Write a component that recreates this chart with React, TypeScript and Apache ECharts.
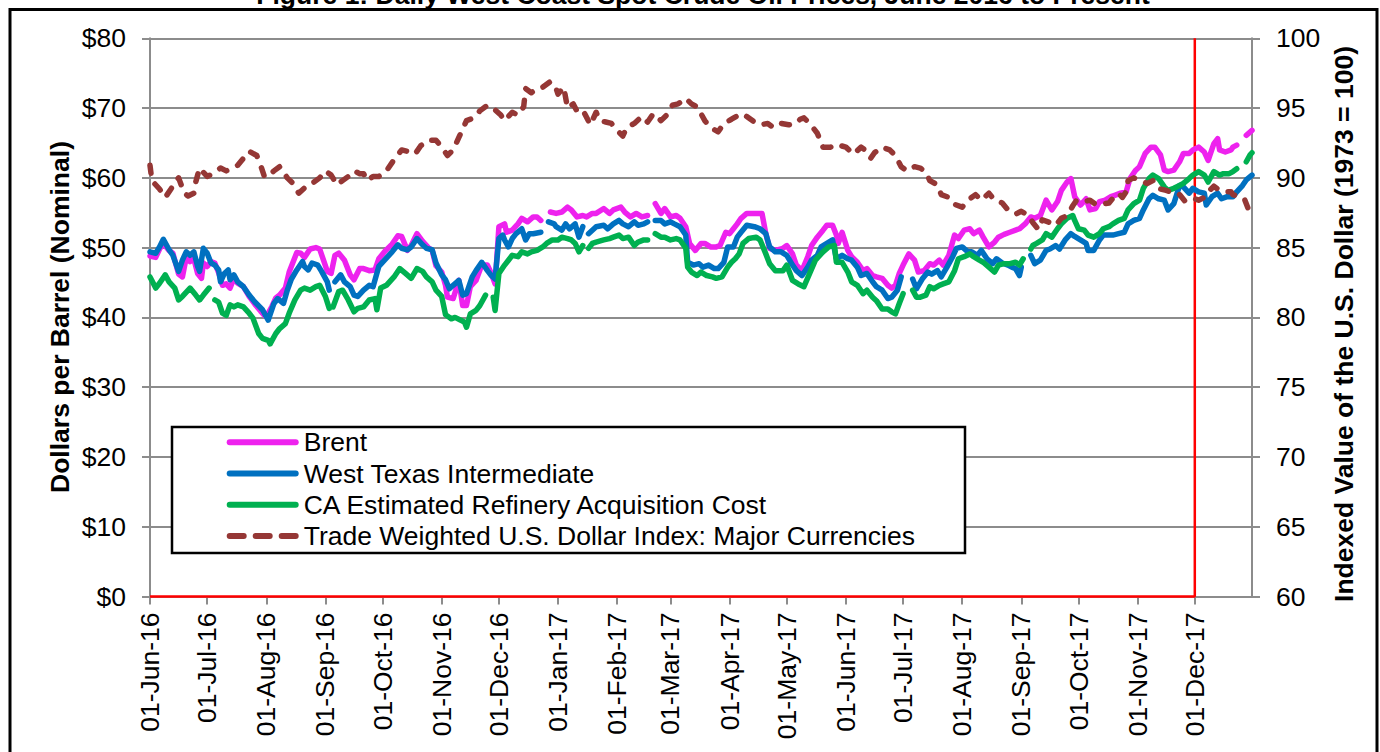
import React, { useEffect, useRef } from "react";
import * as echarts from "echarts";

const FONT = '"Liberation Sans", Arial, Helvetica, sans-serif';
const FS = 26.5;

// Day offsets are counted from 01-Jun-16 (day 0) to 31-Dec-17 (day 578)
const START_UTC = Date.UTC(2016, 5, 1);
const N_DAYS = 579;
const MONTHS = ["Jan", "Feb", "Mar", "Apr", "May", "Jun", "Jul", "Aug", "Sep", "Oct", "Nov", "Dec"];

const SERIES_NAMES = [
  "Brent",
  "West Texas Intermediate",
  "CA Estimated Refinery Acquisition Cost",
  "Trade Weighted U.S. Dollar Index: Major Currencies",
];
const SERIES_COLORS = ["#ee22ee", "#0070c0", "#00b050", "#953735"];

// [day offset, $/bbl]; null = gap (holiday)
const brentPts: [number, number | null][] = [
  [0, 48.8], [3, 48.6], [5, 49.8], [7, 50.6], [10, 49.6], [12, 49.2], [15, 46.2], [17, 45.8], [19, 48.6], [21, 48.0],
  [23, 48.4], [25, 46.3], [27, 45.6], [28, 47.8], [30, 47.3], [32, 48.0], [34, 47.8], [36, 46.4], [38, 44.6], [40, 44.8],
  [42, 44.2], [44, 45.6], [46, 44.9], [49, 44.4], [52, 43.0], [55, 41.9], [58, 40.9], [60, 40.3], [62, 40.6], [64, 41.6],
  [66, 42.8], [68, 43.2], [71, 44.2], [73, 46.5], [75, 47.9], [77, 49.3], [79, 49.2], [81, 48.6], [84, 49.8], [87, 50.0],
  [89, 49.8], [91, 48.2], [93, 46.6], [95, 46.3], [97, 48.9], [99, 49.2], [102, 48.2], [105, 46.1], [107, 45.4], [110, 47.0],
  [112, 47.0], [115, 46.7], [118, 46.8], [120, 48.4], [123, 49.4], [127, 50.5], [130, 51.7], [132, 51.6], [135, 49.6], [137, 50.3],
  [140, 52.0], [143, 50.9], [146, 50.0], [148, 49.6], [150, 47.4], [153, 46.5], [155, 44.6], [156, 42.9], [159, 42.7], [162, 45.3],
  [164, 41.7], [166, 41.7], [168, 44.4], [171, 45.3], [174, 47.5], [177, 47.5], [179, 46.3], [181, 44.8], [183, 53.0], [186, 53.4],
  [187, 52.2], [190, 52.5], [193, 53.4], [195, 54.2], [198, 53.7], [201, 54.4], [203, 54.4], [205, 53.9], [207, null], [210, 55.1],
  [213, 54.9], [216, 55.1], [219, 55.8], [221, 55.4], [224, 54.4], [227, 54.6], [229, 54.4], [232, 54.9], [234, 54.9], [238, 55.6],
  [241, 54.9], [243, 55.4], [247, 55.8], [249, 55.1], [252, 54.4], [255, 54.9], [258, 54.4], [261, 54.6], [263, null], [265, 56.3],
  [268, 54.9], [270, 55.6], [273, 54.4], [276, 54.6], [278, 54.2], [281, 53.0], [283, 50.6], [286, 49.6], [289, 50.6], [291, 50.6],
  [294, 50.1], [297, 50.1], [299, 50.3], [302, 52.2], [304, 52.0], [306, 52.7], [308, 53.4], [310, 54.2], [313, 54.9], [317, 54.9],
  [321, 54.9], [323, 52.0], [325, 49.9], [328, 49.6], [332, 49.9], [334, 50.3], [337, 49.1], [339, 47.5], [342, 46.7], [345, 48.7],
  [347, 50.3], [350, 51.5], [353, 52.5], [355, 53.2], [358, 53.2], [360, 51.8], [361, 50.6], [363, 52.2], [366, 49.6], [368, 48.7],
  [371, 47.9], [374, 46.7], [376, 47.0], [379, 46.0], [381, 45.8], [384, 45.6], [387, 44.6], [389, 44.2], [391, 44.6], [393, 46.3],
  [395, 47.5], [398, 49.1], [401, 48.2], [403, 46.5], [406, 46.7], [409, 47.7], [411, 47.5], [414, 48.2], [416, 47.5], [419, 48.9],
  [422, 51.8], [424, 51.3], [427, 52.5], [430, 52.7], [432, 52.0], [435, 52.5], [437, 51.5], [440, 50.1], [443, 50.8], [445, 51.5],
  [448, 51.9], [451, 52.2], [454, 52.5], [456, 52.7], [459, 53.4], [462, 54.4], [464, 54.2], [467, 54.6], [470, 56.8], [473, 55.4],
  [476, 56.6], [478, 58.2], [481, 59.4], [483, 59.9], [485, 57.3], [488, 56.1], [491, 57.0], [493, 55.4], [496, 55.6], [498, 56.6],
  [501, 56.8], [504, 57.3], [506, 57.5], [509, 57.8], [512, 58.0], [514, 59.9], [517, 61.1], [519, 61.6], [522, 63.5], [525, 64.4],
  [527, 64.4], [530, 63.3], [532, 61.1], [534, 60.9], [537, 61.1], [540, 62.3], [542, 63.5], [545, 63.5], [547, 64.0], [550, 64.4],
  [553, 63.7], [555, 62.5], [558, 64.9], [560, 65.6], [561, 64.0], [564, 63.7], [567, 64.0], [568, 64.4], [570, 64.7], [572, null],
  [575, 66.1], [578, 66.8],
];

const wtiPts: [number, number | null][] = [
  [0, 49.4], [3, 49.2], [5, 50.1], [7, 51.2], [10, 49.7], [12, 48.9], [15, 46.6], [17, 48.2], [19, 49.4], [21, 48.9],
  [23, 49.4], [25, 47.3], [26, 46.6], [28, 49.9], [30, 49.2], [32, 47.8], [34, 47.5], [36, 46.8], [37, 45.1], [39, 46.3],
  [41, 46.8], [42, 45.4], [44, 46.1], [46, 45.1], [49, 44.4], [52, 43.2], [55, 42.2], [59, 41.1], [62, 39.6], [65, 42.0],
  [67, 42.7], [70, 42.0], [72, 43.9], [74, 45.4], [77, 46.8], [80, 48.0], [81, 47.3], [83, 46.8], [85, 47.8], [88, 47.5],
  [90, 46.6], [93, 45.1], [94, 43.9], [96, null], [97, 45.1], [100, 46.1], [102, 45.1], [105, 44.4], [107, 43.2], [109, 43.0],
  [112, 43.9], [115, 44.6], [117, 44.4], [120, 47.3], [123, 48.2], [127, 49.4], [130, 50.4], [132, 49.9], [135, 49.7], [137, 50.1],
  [140, 51.3], [143, 50.4], [145, 49.9], [148, 49.7], [150, 47.8], [153, 46.1], [155, 45.4], [157, 44.1], [159, 44.6], [162, 45.3],
  [164, 43.2], [166, 43.4], [169, 45.8], [171, 46.7], [174, 47.9], [177, 46.7], [179, 46.0], [181, 45.5], [183, 51.3], [185, 51.8],
  [186, 51.1], [188, 50.1], [190, 51.3], [192, 52.0], [195, 52.7], [197, 51.1], [199, 52.0], [201, 52.0], [205, 52.2], [207, null],
  [209, 53.7], [212, 53.4], [213, 53.0], [216, 52.5], [218, 53.4], [220, 52.7], [223, 53.4], [225, 51.5], [227, 53.0], [228, null],
  [230, 52.0], [232, 52.5], [234, 53.0], [238, 53.2], [240, 52.7], [243, 53.4], [246, 53.9], [248, 53.4], [251, 53.0], [254, 53.7],
  [256, 53.2], [259, 53.4], [261, 53.7], [263, null], [265, 53.9], [268, 53.9], [270, 53.4], [273, 53.7], [275, 53.4], [278, 53.0],
  [281, 51.8], [282, 47.9], [285, 47.5], [288, 47.7], [290, 47.2], [293, 47.5], [296, 47.0], [298, 47.0], [301, 47.9], [303, 50.1],
  [306, 50.1], [308, 51.5], [310, 52.2], [313, 53.2], [317, 53.0], [320, 52.7], [323, 52.0], [325, 50.1], [328, 49.4], [331, 49.4],
  [334, 48.9], [337, 47.5], [339, 46.7], [342, 46.0], [345, 47.2], [347, 48.2], [350, 48.9], [352, 50.1], [355, 50.6], [358, 51.1],
  [360, 48.4], [363, 48.9], [366, 48.4], [368, 48.2], [371, 47.2], [373, 46.0], [376, 46.3], [379, 45.1], [381, 44.4], [384, 43.9],
  [387, 42.7], [389, 42.9], [392, 43.9], [394, 45.8], [397, null], [400, 45.5], [402, 44.1], [405, 45.5], [408, 46.5], [410, 46.2],
  [413, 46.7], [415, 45.8], [418, 47.2], [421, 48.7], [423, 49.9], [426, 50.1], [429, 49.4], [431, 49.4], [434, 48.9], [436, 49.6],
  [439, 48.4], [442, 47.7], [444, 48.4], [447, 47.8], [450, 47.5], [452, 47.2], [454, 47.0], [456, 46.0], [457, 47.2], [459, null],
  [462, 48.9], [464, 47.7], [467, 48.2], [470, 49.6], [472, 49.8], [475, 50.3], [477, 49.8], [480, 51.1], [483, 52.0], [485, 51.6],
  [488, 51.1], [491, 50.6], [492, 49.6], [495, 49.6], [498, 51.1], [500, 51.8], [503, 51.8], [505, 51.8], [508, 52.0], [511, 52.2],
  [513, 53.4], [516, 53.9], [519, 54.2], [521, 55.4], [524, 57.0], [526, 57.5], [529, 57.0], [532, 56.8], [534, 55.4], [537, 56.3],
  [540, 58.9], [542, 58.7], [545, 57.8], [547, 58.5], [550, 58.0], [553, 57.8], [554, 56.1], [557, 57.3], [560, 57.8], [562, 57.0],
  [565, 57.3], [568, 57.3], [570, 58.0], [573, 58.9], [575, 59.7], [578, 60.4],
];

const caPts: [number, number | null][] = [
  [0, 45.8], [3, 44.2], [5, 44.9], [8, 46.1], [10, 45.1], [13, 44.2], [15, 42.5], [17, 43.0], [21, 44.2], [24, 43.2],
  [26, 42.5], [28, 43.2], [31, 44.2], [32, null], [34, 42.5], [36, 42.2], [38, 40.6], [40, 40.3], [42, 41.8], [44, 41.5],
  [46, 41.8], [49, 41.5], [52, 40.6], [54, 39.9], [57, 37.7], [59, 37.0], [62, 36.7], [63, 36.2], [66, 37.7], [68, 38.4],
  [71, 39.1], [73, 40.6], [76, 42.5], [79, 43.9], [81, 44.2], [84, 43.9], [87, 44.4], [89, 44.6], [92, 43.0], [94, 41.3],
  [95, null], [96, 41.5], [99, 43.7], [101, 43.9], [104, 42.5], [107, 40.8], [109, 41.3], [112, 41.5], [115, 42.5], [118, 42.7],
  [119, 41.1], [121, 44.2], [124, 44.6], [128, 45.8], [131, 47.0], [134, 46.3], [137, 45.6], [140, 47.0], [143, 46.6], [145, 45.8],
  [148, 45.1], [150, 43.9], [153, 43.0], [155, 40.4], [158, 39.8], [160, 40.0], [163, 39.6], [165, 39.3], [166, 38.6], [168, 40.5],
  [171, 41.0], [173, 41.7], [176, 43.2], [178, null], [180, 42.9], [181, 41.0], [183, 46.3], [186, 47.5], [188, 48.2], [190, 48.9],
  [193, 48.7], [195, 49.4], [198, 49.1], [200, 49.4], [203, 49.6], [206, 50.1], [208, 50.6], [211, 51.1], [214, 51.1], [216, 51.5],
  [219, 51.3], [221, 51.1], [223, 50.6], [225, 49.4], [227, 50.3], [228, null], [230, 49.9], [232, 50.6], [234, 50.8], [238, 51.1],
  [241, 51.3], [243, 51.5], [246, 51.8], [248, 51.3], [251, 51.5], [254, 50.3], [256, 50.8], [259, 51.1], [261, 51.1], [263, null],
  [265, 52.0], [268, 51.5], [270, 51.5], [273, 51.1], [276, 51.3], [278, 51.1], [281, 49.9], [282, 47.2], [284, 46.5], [287, 46.0],
  [289, 46.5], [292, 46.0], [295, 45.8], [297, 45.6], [300, 45.8], [303, 47.2], [305, 47.9], [307, 48.4], [309, 49.1], [311, 50.6],
  [314, 51.3], [318, 51.5], [320, 51.1], [323, 49.1], [325, 47.7], [328, 46.7], [332, 46.7], [334, 47.5], [337, 45.3], [340, 44.8],
  [343, 44.4], [346, 46.3], [349, 48.2], [353, 49.4], [356, 50.1], [359, 50.3], [360, 47.9], [363, 47.9], [366, 46.5], [368, 45.1],
  [371, 44.6], [374, 43.4], [376, 43.9], [379, 42.9], [381, 42.4], [384, 41.2], [387, 41.2], [389, 40.8], [391, 40.5], [393, 42.0],
  [395, 43.4], [397, null], [400, 43.9], [402, 42.9], [404, 42.9], [407, 43.2], [409, 44.4], [411, 44.1], [414, 44.6], [416, 44.8],
  [419, 45.1], [422, 46.7], [424, 48.4], [427, 48.7], [430, 49.1], [432, 48.7], [435, 48.2], [437, 47.9], [440, 47.2], [443, 46.5],
  [445, 47.5], [448, 47.7], [451, 47.7], [454, 47.9], [456, 47.5], [458, 48.4], [460, null], [462, 49.8], [463, 50.3], [465, 50.6],
  [468, 51.1], [470, 52.0], [473, 51.5], [476, 52.7], [478, 53.4], [481, 54.2], [484, 54.6], [485, 53.9], [487, 52.7], [490, 52.5],
  [492, 51.8], [495, 51.5], [498, 52.0], [500, 52.7], [503, 53.0], [505, 53.4], [508, 53.9], [511, 54.2], [513, 55.4], [516, 56.3],
  [519, 56.8], [521, 58.5], [524, 59.9], [526, 60.4], [529, 59.9], [532, 58.7], [534, 58.2], [537, 58.5], [540, 58.9], [542, 59.2],
  [545, 59.9], [547, 60.4], [550, 60.9], [553, 60.4], [555, 59.4], [558, 60.9], [561, 60.4], [563, 60.6], [566, 60.6], [568, 60.9],
  [570, 61.3], [572, null], [575, 62.3], [577, 63.3], [578, 63.6],
];

// [day offset, index (1973 = 100)]
const dollarPts: [number, number | null][] = [
  [0, 90.9], [1, 89.8], [5, 89.2], [8, 88.6], [11, 89.2], [13, 89.7], [15, 90.0], [18, 88.9], [20, 88.7], [23, 88.9],
  [24, 89.7], [26, 90.7], [30, 90.1], [33, 90.3], [37, 90.7], [40, 90.5], [43, 90.7], [46, 90.9], [49, 91.4], [52, 91.9],
  [56, 91.6], [58, 90.9], [60, 90.1], [62, 90.1], [65, 90.5], [68, 90.8], [72, 90.0], [75, 89.6], [78, 88.9], [82, 89.4],
  [85, 89.6], [89, 90.0], [92, 90.5], [95, 90.2], [98, 89.5], [101, 89.8], [104, 90.1], [107, 90.5], [110, 90.3], [112, 90.3],
  [114, 89.8], [117, 90.1], [120, 90.1], [124, 90.5], [128, 91.3], [132, 92.0], [135, 91.9], [139, 91.7], [142, 92.3], [146, 92.7],
  [150, 92.7], [153, 92.2], [156, 91.6], [159, 92.0], [162, 92.9], [166, 94.1], [170, 94.3], [173, 94.8], [177, 95.2], [180, 95.0],
  [184, 94.5], [186, 94.1], [190, 94.7], [193, 94.5], [196, 95.1], [197, 96.4], [200, 96.1], [203, 96.4], [206, 96.5], [210, 96.9],
  [213, 96.4], [214, 96.0], [217, 96.5], [219, 95.0], [222, 95.3], [225, 94.5], [228, 94.6], [231, 93.8], [234, 94.7], [236, 94.1],
  [239, 94.0], [242, 93.9], [245, 93.4], [248, 93.0], [250, 93.6], [254, 93.9], [258, 94.4], [261, 94.0], [264, 94.6], [268, 94.1],
  [271, 94.5], [274, 95.2], [277, 95.3], [281, 95.7], [284, 95.3], [288, 95.0], [289, 94.6], [291, 94.1], [294, 93.6], [298, 93.3],
  [301, 93.9], [305, 94.2], [310, 94.6], [313, 94.4], [317, 94.0], [320, 93.8], [324, 93.9], [327, 93.6], [331, 93.9], [335, 93.8],
  [339, 93.9], [341, 94.2], [343, 94.3], [346, 93.9], [350, 93.2], [353, 92.2], [357, 92.2], [360, 92.4], [365, 92.2], [369, 91.7],
  [373, 92.2], [375, 92.0], [378, 91.4], [380, 91.8], [384, 92.2], [388, 92.0], [391, 91.6], [394, 90.8], [397, 90.5], [401, 90.8],
  [404, 90.7], [407, 90.4], [409, 89.8], [413, 89.5], [415, 88.8], [419, 88.6], [422, 88.1], [426, 87.9], [429, 88.4], [433, 88.8],
  [436, 88.4], [440, 88.9], [443, 88.4], [447, 88.2], [450, 87.7], [454, 87.4], [457, 87.6], [461, 87.3], [463, 86.8], [466, 86.3],
  [468, 87.0], [472, 86.8], [475, 86.6], [478, 87.1], [481, 87.3], [484, 88.0], [486, 88.4], [490, 88.3], [493, 88.4], [496, 88.1],
  [499, 88.1], [503, 88.2], [506, 88.7], [508, 88.9], [510, 88.6], [512, 89.0], [513, 89.8], [516, 90.0], [519, 89.8], [523, 89.6],
  [526, 89.8], [527, 89.5], [530, 89.2], [533, 89.1], [535, 89.0], [538, 89.0], [540, 88.8], [543, 88.3], [546, 88.4], [548, 88.5],
  [550, 88.4], [553, 88.6], [555, 89.0], [558, 89.4], [561, 89.1], [564, 89.0], [567, 89.0], [568, 88.8], [574, 88.5], [576, 87.8],
];

// Red reference marker: $0 baseline up to 01-Dec-17, then vertical line at 01-Dec-17
const markerPts: [number, number][] = [[0, 0], [548, 0], [548, 80]];

// Legend keys drawn as icons: a solid bar, and three dashes for the index
const SOLID_ICON = "path://M3,0H69A3,3,0,0,1,69,6H3A3,3,0,0,1,3,0Z";
const DASH_ICON =
  "path://M3,0H17A3,3,0,0,1,17,6H3A3,3,0,0,1,3,0Z" +
  "M29,0H43A3,3,0,0,1,43,6H29A3,3,0,0,1,29,0Z" +
  "M55,0H69A3,3,0,0,1,69,6H55A3,3,0,0,1,55,0Z";

function dayLabel(i: number): string {
  const d = new Date(START_UTC + i * 86400000);
  const dd = String(d.getUTCDate()).padStart(2, "0");
  return dd + "-" + MONTHS[d.getUTCMonth()] + "-" + String(d.getUTCFullYear()).slice(2);
}

const categories: string[] = Array.from({ length: N_DAYS }, (_, i) => dayLabel(i));

const toData = (pts: [number, number | null][]) => pts.map(([d, v]) => [d, v === null ? "-" : v]);

const GRID_GRAY = "#8c8c8c";
const LW = 5.5;

export default function App() {
  const ref = useRef<HTMLDivElement>(null);

  useEffect(() => {
    if (!ref.current) return;
    const chart = echarts.init(ref.current, undefined, { renderer: "svg" });
    const isMonthStart = (_i: number, v: string) => typeof v === "string" && v.startsWith("01-");

    const lineBase = {
      type: "line" as const,
      symbol: "none",
      showSymbol: false,
      connectNulls: false,
      smooth: false,
    };

    chart.setOption({
      animation: false,
      backgroundColor: "#ffffff",
      textStyle: { fontFamily: FONT },
      grid: { left: 150, right: 128, top: 38.3, bottom: 155.5, containLabel: false },
      legend: {
        data: SERIES_NAMES.map((n, i) => ({ name: n, icon: i === 3 ? DASH_ICON : SOLID_ICON })),
        orient: "vertical",
        left: 226.7,
        top: 426.7,
        padding: 0,
        itemGap: 0,
        itemWidth: 72,
        itemHeight: 6,
        z: 20,
        selectedMode: false,
        textStyle: { fontFamily: FONT, fontSize: FS, color: "#000", lineHeight: 31.2 },
      },
      xAxis: {
        type: "category",
        data: categories,
        boundaryGap: false,
        axisLine: { show: true, lineStyle: { color: GRID_GRAY, width: 2 } },
        axisTick: { show: true, length: 8, interval: isMonthStart, lineStyle: { color: GRID_GRAY, width: 2 } },
        axisLabel: {
          interval: isMonthStart,
          rotate: 90,
          margin: 16,
          fontFamily: FONT,
          fontSize: FS,
          color: "#000",
        },
        splitLine: { show: false },
      },
      yAxis: [
        {
          type: "value",
          min: 0,
          max: 80,
          interval: 10,
          position: "left",
          axisLine: { show: true, lineStyle: { color: GRID_GRAY, width: 2 } },
          axisTick: { show: true, length: 8, lineStyle: { color: GRID_GRAY, width: 2 } },
          axisLabel: { formatter: "${value}", margin: 24, fontFamily: FONT, fontSize: FS, color: "#000" },
          splitLine: { show: true, lineStyle: { color: GRID_GRAY, width: 2 } },
        },
        {
          type: "value",
          min: 60,
          max: 100,
          interval: 5,
          position: "right",
          axisLine: { show: true, lineStyle: { color: GRID_GRAY, width: 2 } },
          axisTick: { show: true, length: 8, lineStyle: { color: GRID_GRAY, width: 2 } },
          axisLabel: { margin: 24, fontFamily: FONT, fontSize: FS, color: "#000" },
          splitLine: { show: false },
        },
      ],
      graphic: [
        {
          type: "rect",
          z: 1,
          shape: { x: 10, y: 9.5, width: 1367, height: 800 },
          style: { fill: "none", stroke: "#000", lineWidth: 3 },
          silent: true,
        },
        {
          type: "text",
          z: 5,
          x: 703,
          y: -5,
          style: {
            text: "Figure 1: Daily West Coast Spot Crude Oil Prices, June 2016 to Present",
            font: `bold ${FS}px ${FONT}`,
            fill: "#000",
            align: "center",
            verticalAlign: "middle",
          },
        },
        {
          type: "text",
          z: 5,
          x: 60,
          y: 317,
          rotation: Math.PI / 2,
          style: {
            text: "Dollars per Barrel (Nominal)",
            font: `bold ${FS}px ${FONT}`,
            fill: "#000",
            align: "center",
            verticalAlign: "middle",
          },
        },
        {
          type: "text",
          z: 5,
          x: 1344,
          y: 324,
          rotation: Math.PI / 2,
          style: {
            text: "Indexed Value of the U.S. Dollar (1973 = 100)",
            font: `bold ${FS}px ${FONT}`,
            fill: "#000",
            align: "center",
            verticalAlign: "middle",
          },
        },
        {
          type: "rect",
          z: 10,
          shape: { x: 172, y: 427, width: 793, height: 126 },
          style: { fill: "#fff", stroke: "#000", lineWidth: 2.5 },
          silent: true,
        },
      ],
      series: [
        {
          ...lineBase,
          name: "Dec-17 marker",
          yAxisIndex: 0,
          clip: false,
          data: markerPts,
          lineStyle: { color: "#ff0000", width: 2.5 },
          itemStyle: { color: "#ff0000" },
          z: 1,
        },
        {
          ...lineBase,
          name: SERIES_NAMES[0],
          yAxisIndex: 0,
          data: toData(brentPts),
          itemStyle: { color: SERIES_COLORS[0] },
          lineStyle: { color: SERIES_COLORS[0], width: LW, cap: "round", join: "round" },
          z: 2,
        },
        {
          ...lineBase,
          name: SERIES_NAMES[1],
          yAxisIndex: 0,
          data: toData(wtiPts),
          itemStyle: { color: SERIES_COLORS[1] },
          lineStyle: { color: SERIES_COLORS[1], width: LW, cap: "round", join: "round" },
          z: 3,
        },
        {
          ...lineBase,
          name: SERIES_NAMES[2],
          yAxisIndex: 0,
          data: toData(caPts),
          itemStyle: { color: SERIES_COLORS[2] },
          lineStyle: { color: SERIES_COLORS[2], width: LW, cap: "round", join: "round" },
          z: 4,
        },
        {
          ...lineBase,
          name: SERIES_NAMES[3],
          yAxisIndex: 1,
          data: toData(dollarPts),
          itemStyle: { color: SERIES_COLORS[3] },
          lineStyle: { color: SERIES_COLORS[3], width: LW, type: [8, 12], cap: "round", join: "round" },
          z: 5,
        },
      ],
    });

    return () => chart.dispose();
  }, []);

  return (
    <div
      ref={ref}
      style={{ position: "fixed", left: 0, top: 0, width: 1380, height: 752, background: "#fff" }}
    />
  );
}
